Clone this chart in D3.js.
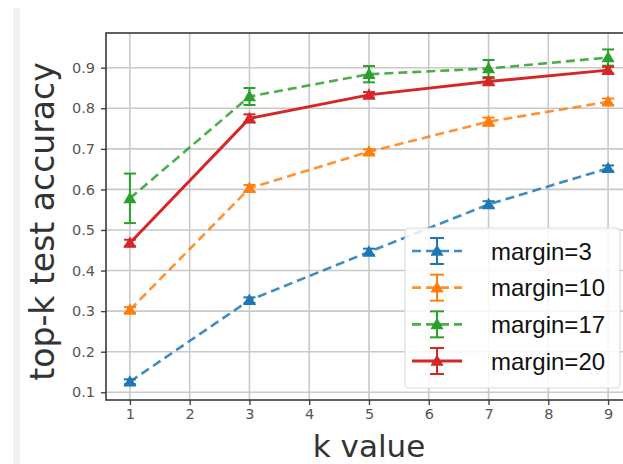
<!DOCTYPE html>
<html>
<head>
<meta charset="utf-8">
<script src="https://cdn.jsdelivr.net/npm/d3@7"></script>
<style>
  html, body { margin: 0; padding: 0; background: #fff; }
  svg { display: block; }
</style>
</head>
<body>
<script>
// ---- data ----
const kValues = [1, 3, 5, 7, 9];
const seriesNames = ["margin=3", "margin=10", "margin=17", "margin=20"];
const margin3 = [0.126, 0.327, 0.446, 0.563, 0.652];
const margin3Err = [0.006, 0.007, 0.008, 0.008, 0.007];
const margin10 = [0.303, 0.603, 0.693, 0.767, 0.816];
const margin10Err = [0.007, 0.008, 0.006, 0.010, 0.008];
const margin17 = [0.578, 0.829, 0.884, 0.898, 0.925];
const margin17Err = [0.061, 0.021, 0.020, 0.021, 0.020];
const margin20 = [0.468, 0.775, 0.833, 0.866, 0.894];
const margin20Err = [0.008, 0.010, 0.007, 0.008, 0.008];
const xTicks = [1, 2, 3, 4, 5, 6, 7, 8, 9];
const yTicks = [0.1, 0.2, 0.3, 0.4, 0.5, 0.6, 0.7, 0.8, 0.9];
const xLabel = "k value";
const yLabel = "top-k test accuracy";

// ---- styles ----
const colors = ["#1f77b4", "#ff7f0e", "#2ca02c", "#d62728"];
const dashed = [true, true, true, false];
const series = [
  { name: seriesNames[0], vals: margin3, err: margin3Err },
  { name: seriesNames[1], vals: margin10, err: margin10Err },
  { name: seriesNames[2], vals: margin17, err: margin17Err },
  { name: seriesNames[3], vals: margin20, err: margin20Err }
];

const W = 623, H = 464;
const plot = { left: 106, top: 33, right: 632, bottom: 400 };

const svg = d3.select("body").append("svg").attr("width", W).attr("height", H);

// faint scan artifact strip on the left
svg.append("rect").attr("x", 13).attr("y", 8).attr("width", 7).attr("height", H - 8)
  .attr("fill", "#f2f2f2");

const x = d3.scaleLinear().domain([0.6, 9.4]).range([plot.left, plot.right]);
const y = d3.scaleLinear().domain([0.081, 0.9855]).range([plot.bottom, plot.top]);

const g = svg.append("g");

// grid
g.append("g").selectAll("line").data(xTicks).join("line")
  .attr("x1", d => x(d)).attr("x2", d => x(d))
  .attr("y1", plot.top).attr("y2", plot.bottom)
  .attr("stroke", "#c9c9c9").attr("stroke-width", 1.6);
g.append("g").selectAll("line").data(yTicks).join("line")
  .attr("y1", d => y(d)).attr("y2", d => y(d))
  .attr("x1", plot.left).attr("x2", plot.right)
  .attr("stroke", "#c9c9c9").attr("stroke-width", 1.6);

// axes
const xAxis = d3.axisBottom(x).tickValues(xTicks).tickFormat(d3.format("d")).tickSize(5).tickPadding(4);
const yAxis = d3.axisLeft(y).tickValues(yTicks).tickFormat(d3.format(".1f")).tickSize(5).tickPadding(6);

const gx = svg.append("g").attr("transform", `translate(0,${plot.bottom})`).call(xAxis);
const gy = svg.append("g").attr("transform", `translate(${plot.left},0)`).call(yAxis);
[gx, gy].forEach(a => {
  a.select(".domain").remove();
  a.selectAll(".tick line").attr("stroke", "#444").attr("stroke-width", 1.4);
  a.selectAll(".tick text").attr("fill", "#555")
    .style("font-family", "DejaVu Sans").style("font-size", "14.5px");
});

// frame
svg.append("rect").attr("x", plot.left).attr("y", plot.top)
  .attr("width", plot.right - plot.left).attr("height", plot.bottom - plot.top)
  .attr("fill", "none").attr("stroke", "#3a3a3a").attr("stroke-width", 1.6);

// lines, error bars, markers
const tri = d3.symbol().type(d3.symbolTriangle).size(75);
const line = d3.line().x((d, i) => x(kValues[i])).y(d => y(d));

series.forEach((s, si) => {
  const c = colors[si];
  const sg = svg.append("g");
  sg.append("path").datum(s.vals).attr("d", line)
    .attr("fill", "none").attr("stroke", c)
    .attr("stroke-width", dashed[si] ? 2.6 : 3)
    .attr("stroke-dasharray", dashed[si] ? "9,5" : null)
    .attr("opacity", dashed[si] ? 0.85 : 1);
  const eb = sg.selectAll("g.eb").data(s.vals).join("g");
  eb.append("line")
    .attr("x1", (d, i) => x(kValues[i])).attr("x2", (d, i) => x(kValues[i]))
    .attr("y1", (d, i) => y(d - s.err[i])).attr("y2", (d, i) => y(d + s.err[i]))
    .attr("stroke", c).attr("stroke-width", 2);
  [-1, 1].forEach(sign => {
    eb.append("line")
      .attr("x1", (d, i) => x(kValues[i]) - 6).attr("x2", (d, i) => x(kValues[i]) + 6)
      .attr("y1", (d, i) => y(d + sign * s.err[i])).attr("y2", (d, i) => y(d + sign * s.err[i]))
      .attr("stroke", c).attr("stroke-width", 2);
  });
  sg.selectAll("path.m").data(s.vals).join("path").attr("class", "m")
    .attr("d", tri)
    .attr("transform", (d, i) => `translate(${x(kValues[i])},${y(d) + 1})`)
    .attr("fill", c);
});

// axis labels
svg.append("text").attr("x", x(5)).attr("y", 457)
  .attr("text-anchor", "middle").attr("fill", "#333")
  .style("font-family", "DejaVu Sans").style("font-size", "31px")
  .text(xLabel);
svg.append("text")
  .attr("transform", `translate(54,${(plot.top + plot.bottom) / 2 + 5}) rotate(-90)`)
  .attr("text-anchor", "middle").attr("fill", "#333")
  .style("font-family", "DejaVu Sans").style("font-size", "33px")
  .text(yLabel);

// legend
const lg = svg.append("g");
lg.append("rect").attr("x", 405).attr("y", 228).attr("width", 215).attr("height", 160)
  .attr("rx", 4).attr("fill", "#fff").attr("fill-opacity", 0.85)
  .attr("stroke", "#dcdcdc").attr("stroke-width", 1.2);
const rowY = d3.scaleLinear().domain([0, 3]).range([251, 361]);
series.forEach((s, si) => {
  const c = colors[si];
  const cy = rowY(si);
  const row = lg.append("g");
  row.append("line").attr("x1", 412).attr("x2", 462).attr("y1", cy).attr("y2", cy)
    .attr("stroke", c).attr("stroke-width", dashed[si] ? 2.6 : 3.2)
    .attr("stroke-dasharray", dashed[si] ? "9,5" : null)
    .attr("opacity", dashed[si] ? 0.85 : 1);
  row.append("line").attr("x1", 437).attr("x2", 437).attr("y1", cy - 13).attr("y2", cy + 13)
    .attr("stroke", c).attr("stroke-width", 2);
  [-13, 13].forEach(o => row.append("line").attr("x1", 430).attr("x2", 444)
    .attr("y1", cy + o).attr("y2", cy + o).attr("stroke", c).attr("stroke-width", 2));
  row.append("path").attr("d", tri).attr("transform", `translate(437,${cy + 1})`).attr("fill", c);
  row.append("text").attr("x", 491).attr("y", cy + 8.5)
    .attr("fill", "#111")
    .style("font-family", "Liberation Sans").style("font-size", "24px")
    .text(s.name);
});
</script>
</body>
</html>
